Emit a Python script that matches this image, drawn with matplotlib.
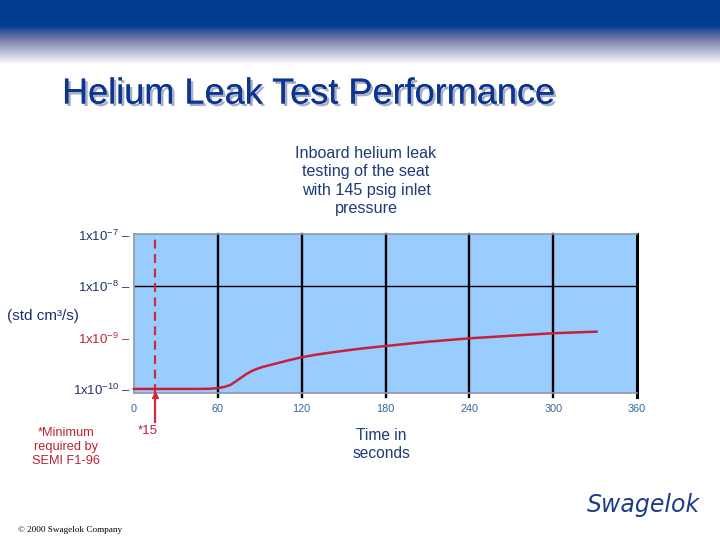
import numpy as np
import matplotlib
matplotlib.use("Agg")
import matplotlib.pyplot as plt
import matplotlib.transforms as mtransforms
import matplotlib.patheffects as pe

plt.rcParams['font.family'] = ['Liberation Sans', 'DejaVu Sans']
plt.rcParams['mathtext.fontset'] = 'custom'
plt.rcParams['mathtext.rm'] = 'Liberation Sans'
plt.rcParams['mathtext.it'] = 'Liberation Sans:italic'
plt.rcParams['mathtext.bf'] = 'Liberation Sans:bold'

# ---- data ----
time_s = [0, 15, 30, 45, 55, 60, 65, 69, 72, 76, 80, 84, 88, 92, 98, 105,
          112, 120, 130, 140, 155, 164, 180, 210, 240, 270, 300, 331]
leak_rate = [1.02e-10, 1.02e-10, 1.02e-10, 1.02e-10, 1.03e-10, 1.06e-10,
             1.12e-10, 1.22e-10, 1.38e-10, 1.64e-10, 1.95e-10, 2.25e-10,
             2.5e-10, 2.72e-10, 3.0e-10, 3.35e-10, 3.75e-10, 4.2e-10,
             4.7e-10, 5.15e-10, 5.85e-10, 6.25e-10, 6.95e-10, 8.4e-10,
             9.8e-10, 1.1e-9, 1.23e-9, 1.32e-9]
x_ticks = [0, 60, 120, 180, 240, 300, 360]
y_ticks = [1e-10, 1e-9, 1e-8, 1e-7]
y_labels = [r'1x10$^{-10}$ –', r'1x10$^{-9}$ –', r'1x10$^{-8}$ –', r'1x10$^{-7}$ –']
semi_min_s = 15

W, H = 720, 540
fig = plt.figure(figsize=(7.2, 5.4), dpi=100)
fig.patch.set_facecolor('white')

# ---- header gradient bar ----
hdr = fig.add_axes([0, 1 - 66 / H, 1, 66 / H])
hdr.set_axis_off()
n = 66
rows = np.zeros((n, 1, 3))
navy = np.array([0x00, 0x3C, 0x8F]) / 255
mid = np.array([0x70, 0x78, 0xA8]) / 255
white = np.array([1.0, 1.0, 1.0])
for i in range(n):
    if i < 25:
        c = navy
    elif i < 38:
        t = (i - 25) / 13
        c = navy * (1 - t) + mid * t
    else:
        t = min((i - 38) / 26, 1)
        c = mid * (1 - t) + white * t
    rows[i, 0] = c
hdr.imshow(rows, aspect='auto', extent=[0, 1, 0, 1], interpolation='bilinear')

# ---- title ----
fig.text(62 / W, 1 - 94 / H, 'Helium Leak Test Performance', fontsize=26,
         color='#0B3590', ha='left', va='center',
         path_effects=[pe.withSimplePatchShadow(offset=(1.8, -1.8),
                                                shadow_rgbFace='#A8AEC4', alpha=1.0),
                       pe.Normal()])

# ---- main axes ----
ax_left, ax_right = 134 / W, 637 / W
ax_top, ax_bot = 1 - 234.3 / H, 1 - 393 / H
ax = fig.add_axes([ax_left, ax_bot, ax_right - ax_left, ax_top - ax_bot])
ax.set_facecolor('#99CCFF')
ax.set_yscale('log')
ax.set_xlim(0, 360)
ax.set_ylim(10 ** -10.07, 10 ** -6.99)

for s in ['left', 'top', 'bottom']:
    ax.spines[s].set_color('#8C9AAA')
    ax.spines[s].set_linewidth(1.2)
ax.spines['right'].set_visible(False)

# vertical grid lines (extend slightly below plot)
for xv in x_ticks[1:]:
    ax.axvline(xv, ymin=-0.025, ymax=1, color='black', lw=1.7 if xv < 360 else 2.2,
               clip_on=False, zorder=2)
ax.axhline(1e-8, color='black', lw=1.0, zorder=2)

ax.set_xticks(x_ticks)
ax.set_xticklabels([str(v) for v in x_ticks])
ax.tick_params(axis='x', length=0, pad=8, labelsize=7.8, labelcolor='#336699')
ax.set_yticks(y_ticks)
ax.set_yticklabels(y_labels)
ax.yaxis.set_minor_locator(matplotlib.ticker.NullLocator())
ax.tick_params(axis='y', length=0, pad=2, labelsize=9.5, labelcolor='#223366')
for lab in ax.get_yticklabels():
    if '-9' in lab.get_text():
        lab.set_color('#CC2233')

# data curve
ax.plot(time_s, leak_rate, color='#C8203A', lw=1.8, zorder=4, clip_on=False,
        solid_joinstyle='round')

# SEMI minimum marker at 15 s
ax.axvline(semi_min_s, color='#D02A40', lw=1.6, ls=(0, (4, 2.5)), zorder=3)
trans = mtransforms.blended_transform_factory(ax.transData, ax.transAxes)
ax.plot([semi_min_s, semi_min_s], [-0.005, -0.185], color='#D02A40', lw=1.6,
        transform=trans, clip_on=False, zorder=5)
ax.plot([semi_min_s], [-0.015], marker='^', ms=5, color='#D02A40',
        transform=trans, clip_on=False, zorder=6)

# ---- annotations ----
fig.text(366 / W, 1 - 181 / H,
         'Inboard helium leak\ntesting of the seat\nwith 145 psig inlet\npressure',
         fontsize=11.6, color='#1F3A78', ha='center', va='center', linespacing=1.3)
fig.text(7 / W, 1 - 316 / H, '(std cm³/s)', fontsize=11, color='#1A2F6A',
         ha='left', va='center')
fig.text(381 / W, 1 - 444 / H, 'Time in\nseconds', fontsize=11.2, color='#1F3A78',
         ha='center', va='center', linespacing=1.25)
fig.text(148 / W, 1 - 431 / H, '*15', fontsize=9.5, color='#BB2233',
         ha='center', va='center')
fig.text(66 / W, 1 - 447 / H, '*Minimum\nrequired by\nSEMI F1-96', fontsize=9.2,
         color='#BB2233', ha='center', va='center', linespacing=1.2)
fig.text(18 / W, 1 - 530 / H, '© 2000 Swagelok Company', fontsize=6.6,
         family=['Liberation Serif', 'DejaVu Serif'], color='black',
         ha='left', va='center')
fig.text(643 / W, 1 - 505 / H, 'Swagelok', fontsize=17, color='#1E3C8C',
         family=['DejaVu Sans'], style='italic', ha='center', va='center')

fig.savefig('out.png', dpi=100, facecolor='white')
